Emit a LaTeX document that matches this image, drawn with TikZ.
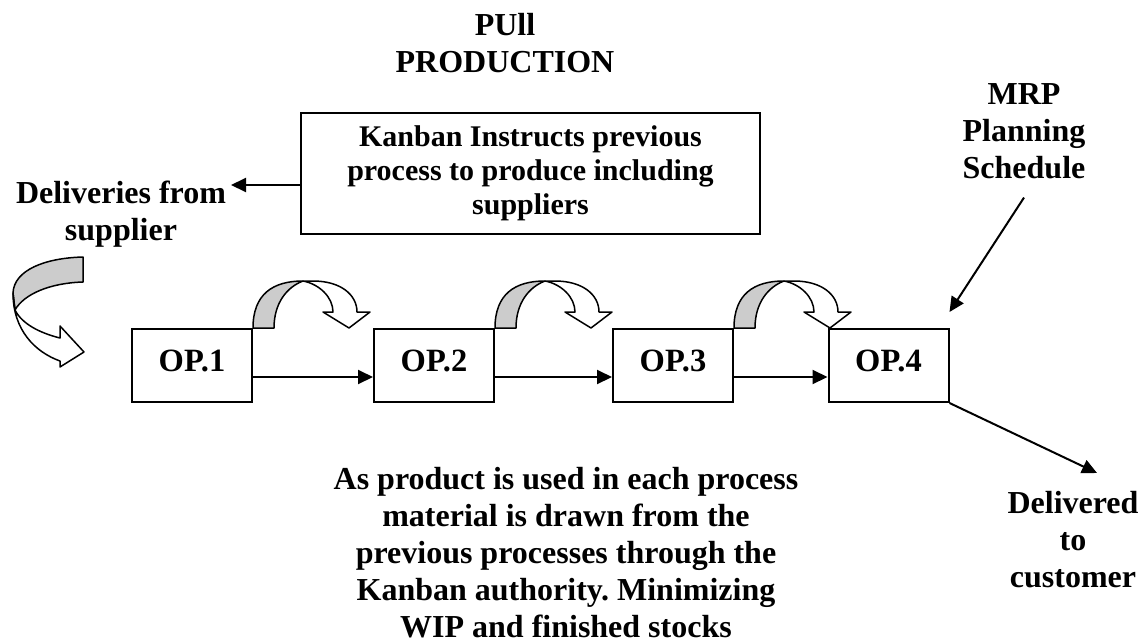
\documentclass[tikz,border=0pt]{standalone}
\usepackage{fontspec}
\setmainfont{Liberation Serif}
\usetikzlibrary{arrows.meta}
\definecolor{shade}{HTML}{CCCCCC}
\frenchspacing
\tikzset{
  kanbanloop/.pic={
    \path[ribbon, fill=shade] (0,0) .. controls (0,-34) and (20,-47) .. (50,-47)
       .. controls (34,-41) and (21,-25) .. (21,0) -- cycle;
    \path[ribbon, fill=white] (50,-47) -- (60,-47) .. controls (88,-47) and (104,-33) .. (104,-16)
       -- (117,-16) -- (96,0) -- (70,-16) -- (80,-16)
       .. controls (80,-31) and (66,-44) .. (50,-47) -- cycle;
  }
}
\begin{document}
\begin{tikzpicture}[x=1pt,y=-1pt,
  txt/.style={font=\fontsize{32}{37}\selectfont\bfseries, align=center, inner sep=0pt},
  opbox/.style={draw, line width=2pt, fill=white, minimum width=120pt, minimum height=73pt,
     inner sep=0pt, text height=21pt, text depth=10pt, font=\fontsize{32.5}{37}\selectfont\bfseries},
  kbox/.style={draw, line width=2pt, minimum width=459pt, minimum height=121pt, inner sep=0pt,
     font=\fontsize{30}{34}\selectfont\bfseries, align=center},
  arr/.style={line width=2pt, -{Triangle[length=15pt,width=14pt]}},
  ribbon/.style={draw, line width=1.5pt, line join=round}]
\useasboundingbox (0,0) rectangle (1143,643);

% titles and labels
\node[txt] (title) at (505,43) {PUll\\PRODUCTION};
\node[kbox] (kanban) at (530.5,173.5) {Kanban Instructs previous\\process to produce including\\suppliers};
\node[txt] (deliv) at (121,214.4) {Deliveries from\\supplier};
\node[txt] (mrp) at (1024,131.7) {MRP\\Planning\\Schedule};
\node[txt] (cust) at (1073,539.5) {Delivered\\to\\customer};
\node[txt] (note) at (566,553) {As product is used in each process\\material is drawn from the\\previous processes through the\\Kanban authority. Minimizing\\WIP and finished stocks};

% supplier curved arrow
\path[ribbon, fill=shade] (83,257) .. controls (45,258) and (14,270) .. (13,293)
   -- (15,310) .. controls (24,294) and (50,283) .. (83,282) -- cycle;
\path[ribbon, fill=white] (13,293) .. controls (13,330) and (35,352) .. (60,361)
   -- (60,367) -- (84,352) -- (60,326) -- (60,338)
   .. controls (40,333) and (22,324) .. (15,310) -- cycle;

% operations
\node[opbox] (op1) at (192,365.5) {OP.1};
\node[opbox] (op2) at (434,365.5) {OP.2};
\node[opbox] (op3) at (673,365.5) {OP.3};
\node[opbox] (op4) at (888.5,365.5) {OP.4};

% kanban loops
\pic at (op1.north east) {kanbanloop};
\pic at (op2.north east) {kanbanloop};
\pic at (op3.north east) {kanbanloop};

% flow arrows
\draw[arr] ([yshift=-11.5pt]op1.east) -- ([yshift=-11.5pt]op2.west);
\draw[arr] ([yshift=-11.5pt]op2.east) -- ([yshift=-11.5pt]op3.west);
\draw[arr] ([yshift=-11.5pt]op3.east) -- ([yshift=-11.5pt]op4.west);

\coordinate (dtip) at (231,185);
\draw[arr] (kanban.west |- dtip) -- (dtip);
\draw[arr] ([yshift=-18pt]mrp.south) -- ([yshift=16pt]op4.north east);
\coordinate (ctip) at (1097,473);
\draw[arr] (op4.south east) -- (ctip);
\end{tikzpicture}
\end{document}
